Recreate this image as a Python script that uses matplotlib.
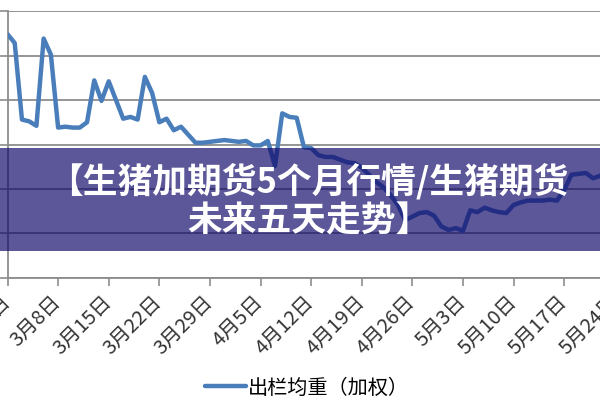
import numpy as np
import pandas as pd
import matplotlib
matplotlib.use('Agg')
import matplotlib.pyplot as plt
from matplotlib.patches import Rectangle

plt.rcParams['font.family'] = ['Noto Sans CJK SC', 'DejaVu Sans']

# daily weighted average slaughter weight
start_date = '2021-03-01'
weight = [137.4, 136.4, 127.8, 127.6, 127.1, 136.9, 135.1, 126.9, 127.0, 126.9,
          126.9, 127.5, 132.2, 129.9, 132.1, 130.0, 127.9, 128.1, 127.8, 132.6,
          130.8, 127.5, 127.9, 126.6, 127.0, 126.1, 125.2, 125.2, 125.3, 125.4,
          125.5, 125.4, 125.3, 125.4, 124.9, 124.9, 125.4, 122.6, 128.5, 128.1,
          128.0, 124.7, 124.6, 123.8, 123.6, 123.6, 123.3, 123.0, 122.9, 122.4,
          121.6, 120.8, 120.2, 119.3, 118.2, 116.5, 116.9, 117.3, 117.4, 117.0,
          115.8, 115.4, 115.6, 115.3, 117.6, 117.4, 117.9, 117.6, 117.4, 117.3,
          118.2, 118.5, 118.7, 118.7, 118.7, 118.8, 118.7, 119.9, 121.6, 121.7,
          121.8, 121.2, 121.5]
series_name = '出栏均重（加权）'
y_ticks = [110, 115, 120, 125, 130, 135, 140]
banner_lines = ['【生猪加期货5个月行情/生猪期货', '未来五天走势】']

dates = pd.date_range(start_date, periods=len(weight), freq='D')
tick_dates = pd.date_range(start_date, periods=13, freq='7D')

fig = plt.figure(figsize=(6, 4), dpi=100)
fig.patch.set_facecolor('white')
# axes runs off the right edge (the reference is a crop)
ax = fig.add_axes([7.5/600, 122/400, 85*7.23/600, 267/400])

ax.plot(dates, weight, color='#4A7EBB', lw=3.2, label=series_name, zorder=3,
        solid_joinstyle='round', solid_capstyle='round')

ax.set_ylim(y_ticks[0], y_ticks[-1])
ax.set_yticks(y_ticks)
ax.set_xlim(dates[0], dates[0] + pd.Timedelta(days=85))
ax.grid(axis='y', color='#8C8C8C', lw=1.3)
ax.set_axisbelow(True)

ax.set_xticks(tick_dates)
ax.set_xticklabels([f'{d.month}月{d.day}日' for d in tick_dates])
ax.tick_params(axis='x', length=6, width=1.2, color='#8C8C8C', labelsize=14.5,
               labelcolor='#333333', pad=9)
ax.tick_params(axis='y', length=6, width=1.2, color='#8C8C8C', labelleft=False)
for lab in ax.get_xticklabels():
    lab.set_rotation(45)
    lab.set_ha('right')
    lab.set_va('center')
    lab.set_rotation_mode('anchor')

for s in ['top', 'right']:
    ax.spines[s].set_visible(False)
for s in ['left', 'bottom']:
    ax.spines[s].set_color('#8C8C8C')
    ax.spines[s].set_linewidth(1.3)

fig.legend(loc='center', bbox_to_anchor=(307/600, 12/400), frameon=False,
           fontsize=14.5, handlelength=2.0, handletextpad=0.1)

# purple banner over the chart
fig.add_artist(Rectangle((0, 149/400), 1, 103/400, transform=fig.transFigure,
                         facecolor='#0F0769', edgecolor='none', alpha=0.68, zorder=10))
fig.text(308/600, 1 - 181/400, banner_lines[0], color='white', fontsize=25,
         fontweight='bold', ha='center', va='center', zorder=11)
fig.text(309/600, 1 - 221/400, banner_lines[1], color='white', fontsize=25,
         fontweight='bold', ha='center', va='center', zorder=11)

fig.savefig('out.png', dpi=100)
